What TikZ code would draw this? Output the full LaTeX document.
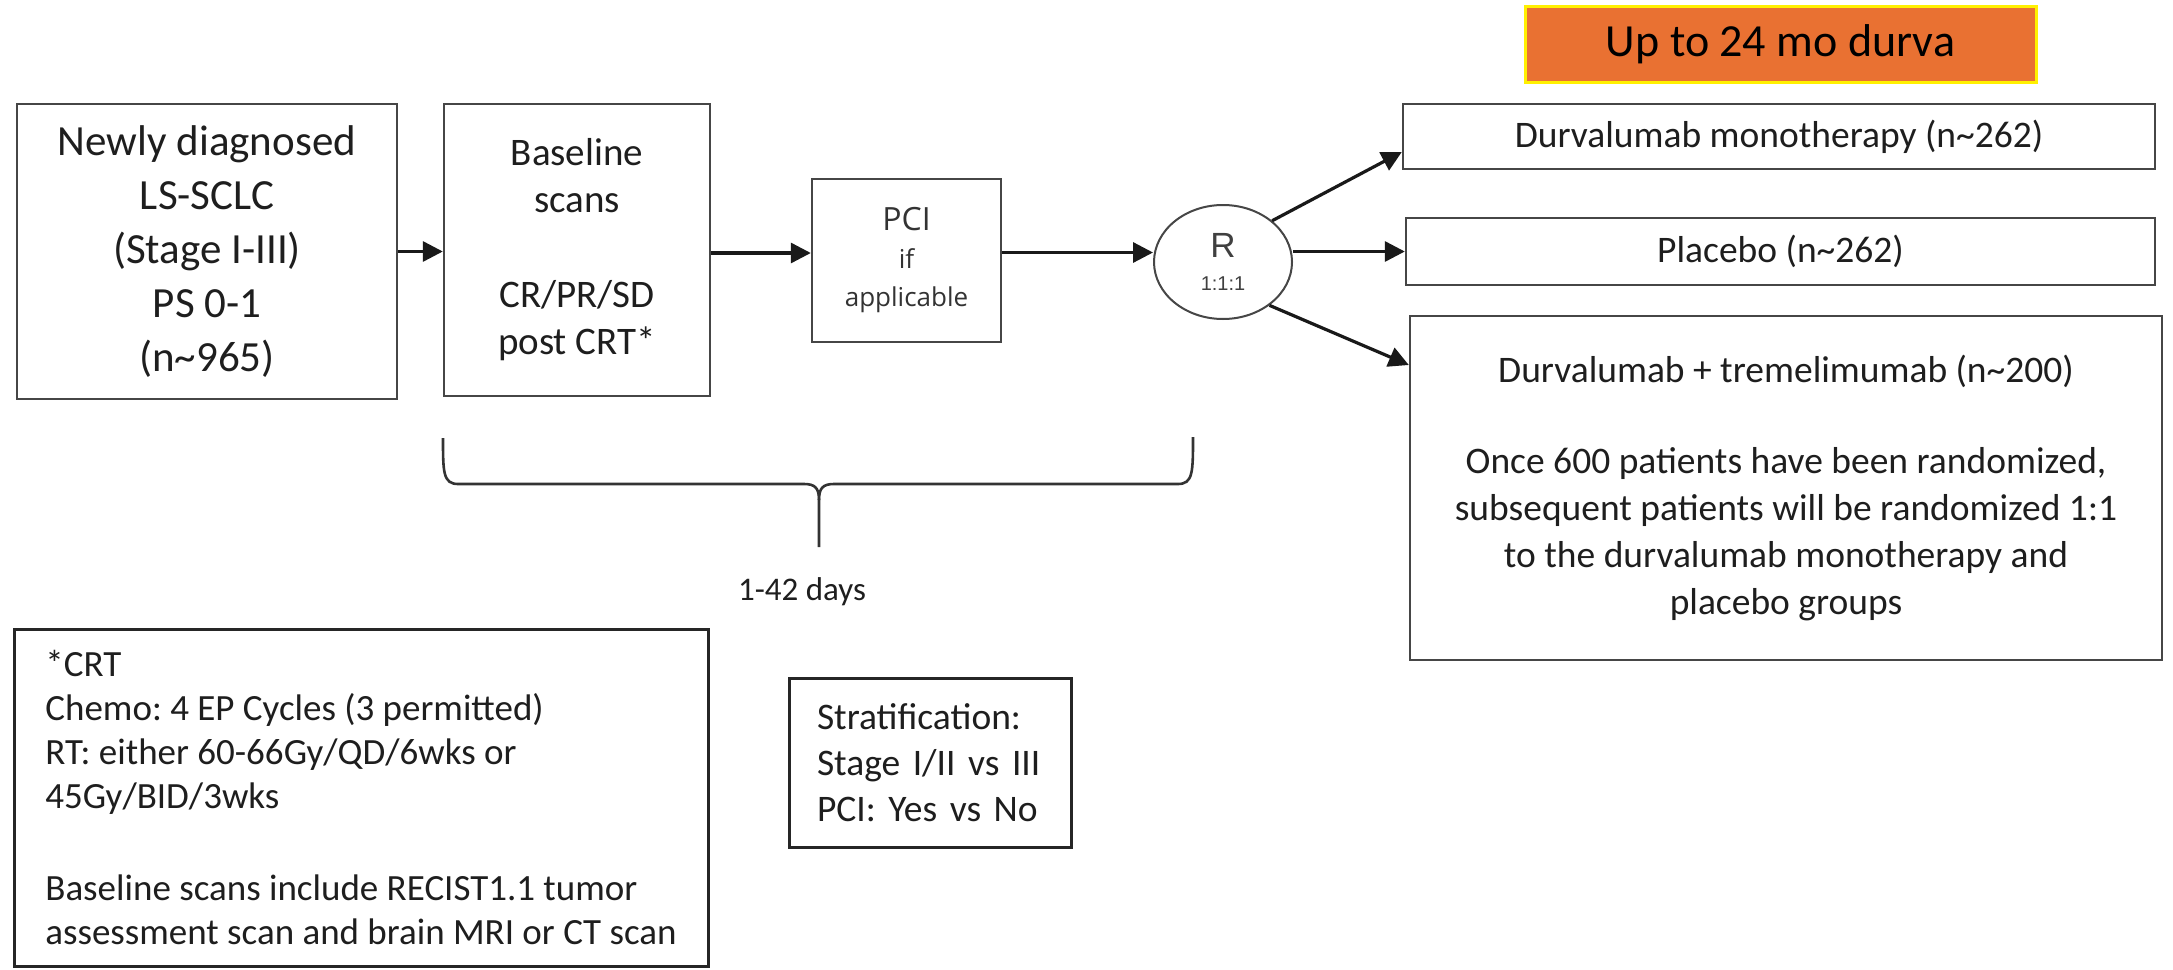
\documentclass[tikz,border=0pt]{standalone}
\usepackage{fontspec}
\setmainfont{Carlito}
\newfontfamily\osans{Open Sans}
\newfontfamily\lsans{Liberation Sans}
\usetikzlibrary{arrows.meta,shapes.geometric}
\definecolor{orng}{RGB}{233,113,50}
\definecolor{ylw}{RGB}{255,240,0}
\definecolor{edge}{RGB}{70,70,70}
\definecolor{txt}{RGB}{30,30,30}
\frenchspacing
\begin{document}
\begin{tikzpicture}[x=0.5pt,y=-0.5pt,
  box/.style={draw=edge,line width=1.2pt,inner sep=0pt,align=center,text=txt},
  notebox/.style={draw=black!85,line width=1.5pt,inner sep=0pt,align=left,text=txt},
  arr/.style={line width=1.6pt,black!90,-{Triangle[length=10pt,width=10pt]}},
  brace/.style={line width=1.3pt,black!80},
  mainfont/.style={font=\fontsize{18.75}{23.5}\selectfont}]
\fill[white] (0,0) rectangle (2173,969);
\useasboundingbox (0,0) rectangle (2173,969);

% top label
\node[draw=ylw,line width=1.5pt,fill=orng,inner sep=0pt,minimum width=255.5pt,minimum height=38pt,
  font=\fontsize{23}{26}\selectfont,text=black] (dur) at (1780.5,44) {Up to 24 mo durva};

% flow boxes
\node[box,minimum width=190pt,minimum height=147.5pt,font=\fontsize{21.5}{27}\selectfont]
  (b1) at (207,251.5) {Newly diagnosed\\LS-SCLC\\(Stage I-III)\\PS 0-1\\(n\textasciitilde965)};
\node[box,minimum width=133pt,minimum height=146pt,font=\fontsize{19.5}{23.5}\selectfont]
  (b2) at (577,250) {Baseline\\scans\\[24pt]CR/PR/SD\\post CRT*};
\node[box,minimum width=94.5pt,minimum height=81.5pt,font=\osans\fontsize{13}{19}\selectfont,text=black!80]
  (pci) at (906.5,260.5) {{\fontsize{16}{19}\selectfont PCI}\\if\\applicable};
\node[ellipse,draw=edge,line width=1pt,inner sep=0pt,minimum width=69pt,minimum height=57pt,
  align=center,text=black!75,font=\lsans\fontsize{10}{16.5}\selectfont]
  (r) at (1223,262) {{\fontsize{17.5}{16.5}\selectfont R}\\1:1:1};

% arms
\node[box,mainfont,minimum width=376pt,minimum height=32.5pt] (mono) at (1779,136.5)
  {Durvalumab monotherapy (n\textasciitilde262)};
\node[box,mainfont,minimum width=374.5pt,minimum height=33.5pt] (plac) at (1780.5,251.5)
  {Placebo (n\textasciitilde262)};
\node[box,mainfont,minimum width=376pt,minimum height=172pt] (combo) at (1786,488)
  {Durvalumab + tremelimumab (n\textasciitilde200)\\[22pt]Once 600 patients have been randomized,\\subsequent patients will be randomized 1:1\\to the durvalumab monotherapy and\\placebo groups};

% connectors
\draw[arr] (b1.east) -- (b1.east -| b2.west);
\draw[arr] ([yshift=-1.5pt]b2.east) -- ([yshift=-1.5pt]b2.east -| pci.west);
\draw[arr] ([yshift=4pt]pci.east) -- ([yshift=4pt]pci.east -| r.west);
\draw[arr] (r.east |- plac.west) -- (plac.west);
\draw[arr] (r.40) -- ([yshift=-7.75pt]mono.west);
\draw[arr] (r.-43) -- ([yshift=61.5pt]combo.west);

% brace
\draw[brace] (443,438) .. controls (443,472) and (443,484) .. (458,484) -- (804,484)
  .. controls (815,484) and (819,488) .. (819,500) -- (819,547);
\draw[brace] (1193,437) .. controls (1193,472) and (1193,484) .. (1178,484) -- (834,484)
  .. controls (823,484) and (819,488) .. (819,500);
\node[font=\fontsize{16.5}{20}\selectfont,text=txt] (days) at (802,592) {1-42 days};

% notes
\node[notebox,minimum width=347pt,minimum height=168.5pt,font=\fontsize{18.5}{22}\selectfont]
  (crt) at (361,797.5) {*CRT\\Chemo: 4 EP Cycles (3 permitted)\\RT: either 60-66Gy/QD/6wks or\\45Gy/BID/3wks\\[24pt]Baseline scans include RECIST1.1 tumor\\assessment scan and brain MRI or CT scan};
\node[notebox,text width=113pt,inner xsep=14pt,minimum height=84.5pt,font=\fontsize{18.75}{23}\selectfont]
  (strat) at (930,762.5) {Stratification:\\Stage I/II vs III\\PCI: Yes vs No};
\end{tikzpicture}
\end{document}
